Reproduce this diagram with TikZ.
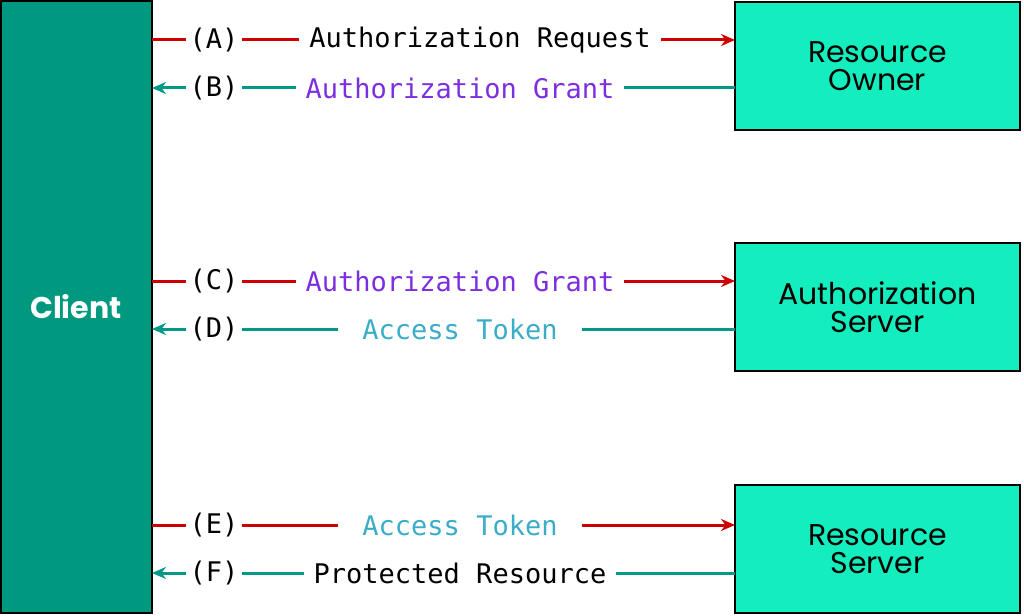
\documentclass[tikz,border=0pt]{standalone}
\usepackage{fontspec}
\setmainfont{Poppins}
\newfontfamily\monofont{DejaVu Sans Mono}
\usetikzlibrary{arrows.meta}
\definecolor{clientgreen}{HTML}{009980}
\definecolor{boxgreen}{HTML}{14EDBE}
\definecolor{reqred}{HTML}{CC0000}
\definecolor{backteal}{HTML}{009988}
\definecolor{grantpurple}{HTML}{7B2FE0}
\definecolor{tokenblue}{HTML}{3AADC8}
\tikzset{
  party/.style={draw=black, line width=2pt, fill=boxgreen, font=\fontsize{30}{34}\selectfont, align=center},
  req/.style={draw=reqred, line width=3pt, -{Stealth[length=14pt,width=12pt]}},
  resp/.style={draw=backteal, line width=3pt, -{Stealth[length=14pt,width=12pt]}},
  steplabel/.style={fill=white, inner xsep=4pt, inner ysep=2pt, font=\monofont\fontsize{27}{30}\selectfont},
  msg/.style={fill=white, inner xsep=10pt, inner ysep=2pt, font=\monofont\fontsize{27}{30}\selectfont}
}
\begin{document}
\begin{tikzpicture}[x=1pt,y=-1pt]
\useasboundingbox (0,0) rectangle (1024,615);
% parties
\node[party, fill=clientgreen, text=white, font=\bfseries\fontsize{30}{34}\selectfont, minimum width=151pt, minimum height=611pt] (client) at (76,307) {Client};
\node[party, minimum width=285pt, minimum height=128pt] (owner) at (877.5,66) {Resource\\[-6pt]Owner};
\node[party, minimum width=285pt, minimum height=128pt] (authsrv) at (877.5,307) {Authorization\\[-6pt]Server};
\node[party, minimum width=285pt, minimum height=128pt] (ressrv) at (877.5,549) {Resource\\[-6pt]Server};
% end points
\foreach \n/\y in {a/40, b/88, c/281, d/329, e/525, f/573} {
  \coordinate (\n1) at (152,\y);
  \coordinate (\n2) at (735,\y);
}
% messages
\draw[req] (a1) -- (a2);
\draw[resp] (b2) -- (b1);
\draw[req] (c1) -- (c2);
\draw[resp] (d2) -- (d1);
\draw[req] (e1) -- (e2);
\draw[resp] (f2) -- (f1);
\node[steplabel] (sa) at (214,40) {(A)};
\node[steplabel] (sb) at (214,88) {(B)};
\node[steplabel] (sc) at (214,281) {(C)};
\node[steplabel] (sd) at (214,329) {(D)};
\node[steplabel] (se) at (214,525) {(E)};
\node[steplabel] (sf) at (214,573) {(F)};
\node[msg] (ma) at (480,40) {Authorization Request};
\node[msg, text=grantpurple] (mb) at (460,88) {Authorization Grant};
\node[msg, text=grantpurple] (mc) at (460,281) {Authorization Grant};
\node[msg, text=tokenblue, inner xsep=24pt] (md) at (460,329) {Access Token};
\node[msg, text=tokenblue, inner xsep=24pt] (me) at (460,525) {Access Token};
\node[msg] (mf) at (460,573) {Protected Resource};
\end{tikzpicture}
\end{document}
